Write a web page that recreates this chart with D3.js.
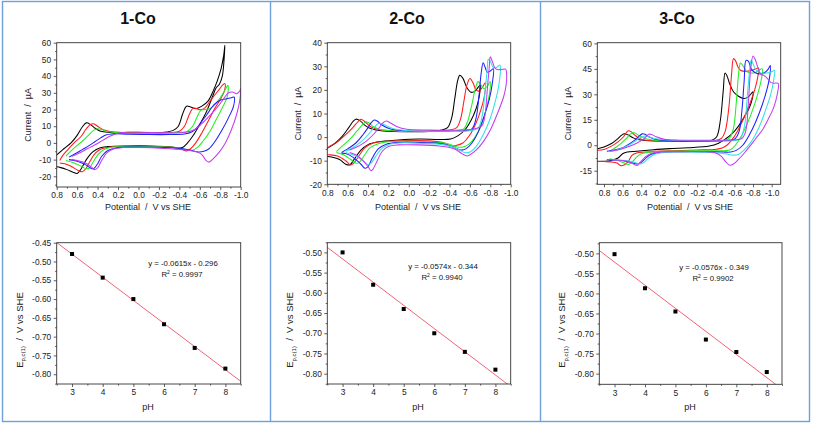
<!DOCTYPE html>
<html><head><meta charset="utf-8">
<script src="https://cdn.jsdelivr.net/npm/d3@7"></script>
<style>
body{margin:0;background:#fff}
svg{display:block;font-family:"Liberation Sans",Arial,sans-serif}
</style>
</head><body>
<svg id="chart" width="813" height="426"></svg>
<script>
// ================= DATA =================
const titles = ["1-Co", "2-Co", "3-Co"];

// CV x ticks (V vs SHE)
const cvXTicks = [0.8, 0.6, 0.4, 0.2, 0.0, -0.2, -0.4, -0.6, -0.8, -1.0];
const cvXTickLabels = ["0.8","0.6","0.4","0.2","0.0","-0.2","-0.4","-0.6","-0.8","-1.0"];
const cvXMinor = [0.7, 0.5, 0.3, 0.1, -0.1, -0.3, -0.5, -0.7, -0.9];
// CV y ticks (µA)
const cvYTicks1 = [-20, -10, 0, 10, 20, 30, 40, 50, 60];
const cvYMinor1 = [-25, -15, -5, 5, 15, 25, 35, 45, 55];
const cvYTicks2 = [-20, -10, 0, 10, 20, 30, 40];
const cvYMinor2 = [-15, -5, 5, 15, 25, 35];
const cvYTicks3 = [-15, 0, 15, 30, 45, 60];
const cvYMinor3 = [-22.5, -7.5, 7.5, 22.5, 37.5, 52.5];
const cvXDomains = [[0.8, -1.0], [0.8, -1.0], [0.872, -1.097]];
const cvYDomains = [[-26.4, 60], [-20, 40], [-23, 60.4]];

// ---- 1-Co cyclic voltammograms [E (V), I (µA)] ----
const co1Black = [[0.82,-8.5],[0.80,-7.2],[0.73,-3.5],[0.66,0],[0.60,4.5],[0.55,9.5],[0.51,12],[0.47,11],[0.43,9],[0.37,7],[0.28,6.3],[0.10,6],[-0.10,6],[-0.25,6.3],[-0.34,7.5],[-0.39,10],[-0.43,17],[-0.47,22],[-0.51,21.5],[-0.56,20.5],[-0.62,22],[-0.68,25],[-0.73,31],[-0.77,37],[-0.81,45],[-0.835,53],[-0.845,58.5],
  [-0.835,48],[-0.82,40],[-0.79,35],[-0.76,33],[-0.72,27],[-0.66,18],[-0.59,10],[-0.53,4],[-0.48,0],[-0.43,-2.8],[-0.38,-3],[-0.30,-2.3],[-0.10,-1.8],[0.10,-1.8],[0.30,-2.2],[0.38,-3],[0.45,-5.5],[0.51,-10],[0.56,-15.5],[0.60,-18.3],[0.64,-17.5],[0.70,-16],[0.76,-14.8],[0.80,-14.3],[0.82,-14.2]];
const co1Red = [[0.77,-10.5],[0.74,-7.5],[0.69,-4],[0.63,0],[0.56,4],[0.51,8.5],[0.47,11],[0.44,11.5],[0.40,10],[0.35,8],[0.28,6.8],[0.10,6.2],[-0.10,6],[-0.30,6.2],[-0.40,7],[-0.45,10],[-0.49,16],[-0.53,20.5],[-0.56,20.8],[-0.60,19.8],[-0.65,21],[-0.70,25],[-0.75,29],[-0.79,32],[-0.82,34.5],[-0.845,35.5],
  [-0.84,31],[-0.80,26],[-0.75,21],[-0.69,14],[-0.62,6],[-0.56,0],[-0.51,-3.5],[-0.47,-4.8],[-0.42,-3.8],[-0.35,-2.8],[-0.10,-2],[0.10,-2],[0.28,-2.5],[0.36,-3.5],[0.42,-6],[0.47,-10.5],[0.51,-15],[0.55,-17.3],[0.59,-16.5],[0.66,-14],[0.72,-12.5],[0.77,-12]];
const co1Green = [[0.71,-8],[0.68,-6],[0.62,-2.5],[0.55,1],[0.49,4.5],[0.44,7.5],[0.40,8.5],[0.36,8],[0.30,6.8],[0.20,6],[0.00,5.8],[-0.20,5.8],[-0.40,6.2],[-0.48,7],[-0.53,10],[-0.57,15],[-0.61,19.5],[-0.65,20],[-0.70,20.5],[-0.75,23],[-0.80,27],[-0.84,31],[-0.875,34.5],
  [-0.87,28],[-0.82,21],[-0.76,14],[-0.70,7],[-0.63,1],[-0.57,-3],[-0.52,-4.5],[-0.47,-4],[-0.40,-3],[-0.20,-2.3],[0.10,-2.2],[0.25,-2.5],[0.33,-3.8],[0.39,-6.5],[0.44,-11],[0.48,-15],[0.51,-15.5],[0.56,-14],[0.63,-12],[0.71,-10.5]];
const co1Blue = [[0.68,-8.5],[0.62,-6.5],[0.55,-4],[0.48,-1.5],[0.42,1],[0.37,3],[0.32,4.8],[0.25,5.4],[0.10,5.2],[-0.10,5],[-0.30,5],[-0.45,5.3],[-0.52,6.5],[-0.57,9],[-0.62,13],[-0.67,17],[-0.72,21.5],[-0.77,24.5],[-0.82,26],[-0.87,26.5],[-0.91,27],[-0.935,27.5],
  [-0.93,22],[-0.88,15],[-0.82,8],[-0.75,1],[-0.69,-3.5],[-0.63,-5.2],[-0.57,-5.3],[-0.50,-4.2],[-0.40,-3.2],[-0.20,-2.6],[0.10,-2.5],[0.22,-3],[0.30,-4.5],[0.36,-8],[0.40,-12.5],[0.44,-15.5],[0.47,-15],[0.52,-13],[0.60,-11],[0.68,-10]];
const co1Magenta = [[0.65,-8],[0.58,-6],[0.50,-3.5],[0.42,-1],[0.35,1.5],[0.28,4],[0.20,5.8],[0.10,6.5],[-0.05,6.4],[-0.30,6],[-0.45,6.2],[-0.55,8],[-0.62,11.5],[-0.70,16.5],[-0.78,22],[-0.84,27],[-0.88,30],[-0.92,30.5],[-0.96,29.5],[-0.99,31],[-1.00,32.5],
  [-0.99,25],[-0.96,17],[-0.91,8],[-0.85,0],[-0.79,-5.5],[-0.73,-9.5],[-0.69,-11.5],[-0.66,-10.5],[-0.62,-7],[-0.56,-5.2],[-0.45,-4.2],[-0.25,-3.3],[0.00,-2.8],[0.15,-2.8],[0.24,-3.5],[0.31,-6],[0.36,-10.5],[0.40,-15],[0.43,-16],[0.46,-14.5],[0.52,-12],[0.60,-10.5],[0.65,-10]];

// ---- 2-Co ----
const co2Black = [[0.82,-5.5],[0.80,-4.8],[0.72,-2.5],[0.65,0.5],[0.59,4],[0.55,6.5],[0.52,7.6],[0.48,7],[0.43,5],[0.37,3.5],[0.25,2.6],[0.00,2.3],[-0.20,2.4],[-0.32,3],[-0.38,4],[-0.42,8],[-0.45,16],[-0.48,24],[-0.50,26.2],[-0.53,25],[-0.57,21],[-0.61,19],[-0.65,19.5],[-0.70,22],
  [-0.69,17],[-0.66,12],[-0.61,7],[-0.55,3],[-0.48,0.5],[-0.41,-0.8],[-0.30,-1],[-0.10,-0.8],[0.10,-1.2],[0.30,-2],[0.40,-3.2],[0.47,-5.5],[0.53,-9],[0.58,-11.8],[0.62,-11.5],[0.68,-9.5],[0.75,-8.5],[0.82,-8.2]];
const co2Red = [[0.82,-5],[0.78,-4],[0.70,-2],[0.62,1],[0.55,4],[0.50,6.5],[0.47,7.6],[0.43,6.5],[0.38,4.5],[0.30,3.2],[0.10,2.6],[-0.20,2.6],[-0.40,3],[-0.47,4],[-0.51,8],[-0.54,15],[-0.57,22],[-0.60,24.8],[-0.63,23],[-0.66,20],[-0.69,19.5],[-0.72,21],[-0.75,23],
  [-0.74,17],[-0.71,12],[-0.66,6],[-0.60,1],[-0.53,-2.5],[-0.46,-3.6],[-0.41,-3.8],[-0.35,-2.5],[-0.20,-1.6],[0.00,-1.5],[0.20,-1.8],[0.35,-2.5],[0.43,-4.5],[0.49,-8],[0.54,-11],[0.57,-11.8],[0.62,-10],[0.70,-8],[0.78,-7.5],[0.82,-7.5]];
const co2Green = [[0.71,-6.2],[0.66,-4],[0.58,-1],[0.51,2.5],[0.46,5],[0.42,6.5],[0.39,6],[0.35,4.5],[0.28,3.2],[0.10,2.5],[-0.20,2.4],[-0.45,2.6],[-0.54,3.5],[-0.58,7],[-0.62,14],[-0.65,20],[-0.68,23.5],[-0.71,22],[-0.74,20.5],[-0.77,21.5],[-0.80,23.5],
  [-0.79,18],[-0.76,12],[-0.71,5],[-0.65,0],[-0.59,-3],[-0.52,-4.3],[-0.46,-4],[-0.38,-2.8],[-0.20,-2],[0.00,-1.8],[0.20,-2],[0.30,-2.8],[0.38,-4.5],[0.44,-8],[0.49,-10.8],[0.52,-11],[0.57,-9.5],[0.64,-7.5],[0.71,-6.5]];
const co2Blue = [[0.66,-6.5],[0.60,-5],[0.52,-2.5],[0.45,1],[0.40,4],[0.37,6],[0.34,7.2],[0.31,6.8],[0.26,5],[0.18,3.4],[0.00,2.6],[-0.30,2.5],[-0.55,2.7],[-0.62,3.5],[-0.66,8],[-0.69,18],[-0.71,27],[-0.73,31.5],[-0.75,29.5],[-0.77,27.5],[-0.80,28],[-0.83,29],
  [-0.82,23],[-0.79,16],[-0.74,9],[-0.68,2],[-0.62,-2.5],[-0.56,-5],[-0.51,-5.5],[-0.45,-4.5],[-0.35,-3],[-0.10,-2.3],[0.10,-2.3],[0.22,-3],[0.30,-5],[0.36,-9],[0.40,-12.5],[0.43,-13.2],[0.47,-11.5],[0.55,-8.5],[0.62,-7],[0.66,-6.8]];
const co2Cyan = [[0.62,-6],[0.55,-4.5],[0.47,-2],[0.40,1],[0.34,4],[0.30,5.8],[0.27,5.8],[0.22,4.8],[0.15,3.5],[0.00,2.7],[-0.30,2.5],[-0.60,2.7],[-0.68,3.8],[-0.72,9],[-0.75,20],[-0.77,29],[-0.78,33],[-0.80,32],[-0.83,29.5],[-0.86,29.5],[-0.895,30.5],
  [-0.89,24],[-0.86,17],[-0.80,8],[-0.73,1],[-0.66,-4],[-0.60,-6.3],[-0.55,-6.6],[-0.48,-5],[-0.35,-3.3],[-0.10,-2.6],[0.10,-2.5],[0.20,-3.2],[0.27,-5],[0.33,-8.5],[0.37,-11],[0.40,-11.6],[0.45,-10],[0.52,-8],[0.60,-6.8],[0.62,-6.5]];
const co2Magenta = [[0.58,-5.5],[0.50,-4],[0.42,-1.8],[0.35,1],[0.29,4],[0.25,6.2],[0.22,6.8],[0.18,6],[0.12,4.5],[0.02,3.3],[-0.20,3],[-0.50,3],[-0.65,3.5],[-0.72,5],[-0.75,10],[-0.77,20],[-0.79,30],[-0.80,34],[-0.82,32],[-0.85,29],[-0.90,28.5],[-0.95,28.8],[-0.96,27],
  [-0.955,22],[-0.93,17],[-0.87,10],[-0.80,3],[-0.73,-2],[-0.66,-5.5],[-0.60,-7.5],[-0.57,-8],[-0.52,-7],[-0.45,-5],[-0.30,-3.8],[-0.10,-3.3],[0.10,-3.3],[0.20,-4],[0.26,-6],[0.31,-10],[0.35,-13.5],[0.37,-14.2],[0.40,-12.5],[0.45,-10],[0.52,-7.5],[0.58,-6.5]];

// ---- 3-Co ----
const co3Black = [[0.87,-2],[0.80,-1],[0.72,1],[0.66,3.5],[0.61,6],[0.58,6.8],[0.54,6],[0.48,4.2],[0.42,3.2],[0.30,2.6],[0.00,2.3],[-0.25,2.4],[-0.36,3],[-0.41,5],[-0.45,15],[-0.48,32],[-0.50,42.5],[-0.52,41],[-0.55,36],[-0.59,31.5],[-0.64,29],[-0.70,27.5],[-0.75,28.5],[-0.80,31.5],
  [-0.79,27],[-0.76,22],[-0.71,17],[-0.64,11],[-0.57,6.5],[-0.50,3.5],[-0.43,1.2],[-0.33,-0.5],[-0.10,-1.5],[0.10,-2],[0.30,-2.8],[0.45,-3.5],[0.55,-4],[0.60,-5],[0.65,-7.5],[0.72,-9],[0.80,-9.5],[0.87,-9.6]];
const co3Red = [[0.87,-3],[0.80,-2.5],[0.72,-0.5],[0.65,2],[0.59,5],[0.56,7.5],[0.54,8.5],[0.51,8],[0.47,6],[0.42,4],[0.35,3],[0.10,2.6],[-0.20,2.6],[-0.40,2.8],[-0.46,4],[-0.50,8],[-0.54,22],[-0.57,42],[-0.59,51],[-0.61,50],[-0.64,46],[-0.67,44],[-0.72,43.5],[-0.78,44],[-0.83,45],[-0.86,45.5],
  [-0.85,40],[-0.82,33],[-0.77,25],[-0.70,16],[-0.63,8],[-0.57,3],[-0.52,0],[-0.46,-1.8],[-0.38,-2.5],[-0.20,-2.8],[0.10,-3.3],[0.35,-4],[0.45,-4.5],[0.50,-6],[0.54,-9.5],[0.58,-11.5],[0.62,-12],[0.66,-10.5],[0.72,-9.8],[0.80,-9.6],[0.87,-9.5]];
const co3Green = [[0.74,-3.5],[0.68,-1.5],[0.62,1],[0.56,4],[0.52,6.5],[0.49,7.5],[0.46,7],[0.42,5.5],[0.36,4],[0.25,3],[0.00,2.6],[-0.30,2.6],[-0.50,3],[-0.55,4.5],[-0.59,10],[-0.62,25],[-0.645,42],[-0.665,48.5],[-0.69,47],[-0.73,43.5],[-0.78,42.5],[-0.83,43],[-0.87,44.5],[-0.90,45],
  [-0.89,39],[-0.86,32],[-0.81,23],[-0.74,13],[-0.67,5],[-0.61,0],[-0.56,-2.5],[-0.50,-3.2],[-0.40,-3.2],[-0.20,-3.2],[0.10,-3.5],[0.30,-4],[0.40,-5],[0.45,-7],[0.50,-10],[0.54,-11.3],[0.58,-10.5],[0.65,-9],[0.74,-8]];
const co3Blue = [[0.77,-3.5],[0.70,-3],[0.60,-1.5],[0.52,1],[0.46,3.5],[0.42,5.5],[0.39,6.7],[0.36,6.5],[0.32,5],[0.25,3.5],[0.10,2.8],[-0.20,2.6],[-0.50,2.7],[-0.60,3.5],[-0.65,8],[-0.68,20],[-0.705,38],[-0.725,50],[-0.75,49.5],[-0.78,45],[-0.83,42.5],[-0.88,42],[-0.93,43],[-0.965,45],[-0.985,47],
  [-0.98,41],[-0.95,33],[-0.90,24],[-0.83,14],[-0.76,6],[-0.69,0],[-0.62,-3],[-0.56,-4],[-0.48,-4],[-0.30,-3.8],[0.00,-3.8],[0.20,-4.2],[0.30,-5.5],[0.36,-8],[0.41,-10.5],[0.45,-11],[0.50,-10.3],[0.58,-9.2],[0.68,-8.8],[0.77,-8.5]];
const co3Cyan = [[0.72,-3.5],[0.62,-2],[0.52,0.5],[0.45,3],[0.39,5],[0.36,5.5],[0.32,5],[0.26,4],[0.15,3.2],[-0.10,2.8],[-0.40,2.7],[-0.62,2.9],[-0.67,4.5],[-0.71,12],[-0.74,30],[-0.765,45],[-0.78,50],[-0.80,48],[-0.83,44.5],[-0.88,42.5],[-0.94,42.5],[-0.99,43],[-1.03,44],
  [-1.02,38],[-0.99,30],[-0.93,20],[-0.86,10],[-0.78,2],[-0.70,-3],[-0.64,-5.5],[-0.58,-5.8],[-0.50,-5],[-0.35,-4.3],[-0.10,-4],[0.15,-4.2],[0.25,-5.2],[0.32,-7.5],[0.37,-10],[0.41,-11],[0.46,-10.3],[0.55,-9],[0.65,-8.8],[0.72,-8.5]];
const co3Magenta = [[0.73,-3.5],[0.63,-2.5],[0.52,-0.5],[0.44,1.5],[0.38,3.5],[0.34,5.5],[0.32,6.5],[0.29,6.3],[0.24,5],[0.15,3.5],[0.00,3],[-0.30,3],[-0.60,3.2],[-0.68,4],[-0.72,8],[-0.75,25],[-0.775,45],[-0.80,52.5],[-0.82,51],[-0.85,46],[-0.88,42],[-0.92,41],[-0.96,39],[-0.99,37],[-1.02,36.5],[-1.07,36.5],
  [-1.06,30],[-1.02,22],[-0.96,15],[-0.90,9],[-0.83,4],[-0.76,-1],[-0.70,-5],[-0.64,-8.5],[-0.59,-11],[-0.55,-11.8],[-0.51,-10],[-0.46,-6.5],[-0.40,-4.5],[-0.25,-3.8],[0.00,-3.8],[0.20,-4],[0.30,-5],[0.36,-7],[0.41,-10],[0.44,-11.8],[0.47,-11.5],[0.52,-10],[0.60,-9],[0.73,-8.5]];

// ---- Peak potential vs pH ----
const pH = [3, 4, 5, 6, 7, 8];
const ep1 = [-0.480, -0.543, -0.600, -0.667, -0.730, -0.785];
const ep2 = [-0.500, -0.580, -0.640, -0.700, -0.746, -0.790];
const ep3 = [-0.502, -0.587, -0.645, -0.715, -0.746, -0.796];
const fitSlopes = [-0.0615, -0.0574, -0.0576];
const fitIntercepts = [-0.296, -0.344, -0.349];
const fitEquations = ["y = -0.0615x - 0.296", "y = -0.0574x - 0.344", "y = -0.0576x - 0.349"];
const fitR2 = ["0.9997", "0.9940", "0.9902"];
const phXTicks = [3, 4, 5, 6, 7, 8];
const phXMinor = [2.5, 3.5, 4.5, 5.5, 6.5, 7.5, 8.5];
const phYTicks1 = [-0.80, -0.75, -0.70, -0.65, -0.60, -0.55, -0.50, -0.45];
const phYTicks23 = [-0.80, -0.75, -0.70, -0.65, -0.60, -0.55, -0.50];
const phYMinor = [-0.825, -0.775, -0.725, -0.675, -0.625, -0.575, -0.525, -0.475];
const phXDomain = [2.5, 8.5];
const phYDomains = [[-0.826, -0.45], [-0.8255, -0.476], [-0.8266, -0.4734]];

// ================= LAYOUT / STYLE =================
const COL = {black:"#000000", red:"#ff1a1a", green:"#22ee22", blue:"#1f1fff", cyan:"#33e0e6", magenta:"#c23cf2"};
const cvSeries = [
  [["black",co1Black],["red",co1Red],["green",co1Green],["blue",co1Blue],["magenta",co1Magenta]],
  [["black",co2Black],["red",co2Red],["green",co2Green],["blue",co2Blue],["cyan",co2Cyan],["magenta",co2Magenta]],
  [["black",co3Black],["red",co3Red],["green",co3Green],["blue",co3Blue],["cyan",co3Cyan],["magenta",co3Magenta]]
];
const cvYT = [[cvYTicks1,cvYMinor1],[cvYTicks2,cvYMinor2],[cvYTicks3,cvYMinor3]];
const phData = [ep1, ep2, ep3];
const phYT = [phYTicks1, phYTicks23, phYTicks23];

const cvBoxes = [
  {x0:56.7, x1:240.7, y0:42.7, y1:187},
  {x0:327.3, x1:510.7, y0:42.7, y1:184.3},
  {x0:597.3, x1:780.7, y0:42.7, y1:184.3}];
const phBoxes = [
  {x0:56.7, x1:240.7, y0:242.7, y1:384},
  {x0:327.3, x1:510.7, y0:242.7, y1:384},
  {x0:599.3, x1:782, y0:242.7, y1:384.3}];
const panelCenters = [148, 418, 690];
const titleX = [138, 407, 677];
const eqPos = [[183, 266], [443, 268.5], [714, 269.5]];

const svg = d3.select("#chart");
svg.append("rect").attr("width",813).attr("height",426).attr("fill","#fff");
const TICKC = "#333";

function drawAxes(g, b, x, y, xt, xm, xfmt, yt, ym, yfmt) {
  const ax = g.append("g").attr("transform",`translate(0,${b.y1})`)
    .call(d3.axisBottom(x).tickValues(xt).tickFormat(xfmt).tickSize(3).tickPadding(2.5));
  const axm = g.append("g").attr("transform",`translate(0,${b.y1})`)
    .call(d3.axisBottom(x).tickValues(xm).tickFormat("").tickSize(1.6));
  const ay = g.append("g").attr("transform",`translate(${b.x0},0)`)
    .call(d3.axisLeft(y).tickValues(yt).tickFormat(yfmt).tickSize(3).tickPadding(2.5));
  const aym = g.append("g").attr("transform",`translate(${b.x0},0)`)
    .call(d3.axisLeft(y).tickValues(ym).tickFormat("").tickSize(1.6));
  [ax,axm,ay,aym].forEach(a=>{
    a.select(".domain").remove();
    a.selectAll("line").attr("stroke",TICKC).attr("stroke-width",0.8);
    a.selectAll("text").attr("fill","#222").attr("font-size","8.4px")
      .attr("font-family",'"Liberation Sans", Arial, sans-serif');
  });
  g.append("rect").attr("x",b.x0).attr("y",b.y0).attr("width",b.x1-b.x0).attr("height",b.y1-b.y0)
    .attr("fill","none").attr("stroke","#333").attr("stroke-width",0.9);
}

for (let p = 0; p < 3; p++) {
  const g = svg.append("g");
  // title
  g.append("text").attr("x",titleX[p]).attr("y",24).attr("text-anchor","middle")
    .attr("font-size","16px").attr("font-weight","bold").attr("fill","#111").text(titles[p]);

  // ---- CV plot ----
  const b = cvBoxes[p];
  const x = d3.scaleLinear().domain(cvXDomains[p]).range([b.x0, b.x1]);
  const y = d3.scaleLinear().domain(cvYDomains[p]).range([b.y1, b.y0]);
  const cid = "cvclip"+p;
  g.append("clipPath").attr("id",cid).append("rect")
    .attr("x",b.x0).attr("y",b.y0).attr("width",b.x1-b.x0).attr("height",b.y1-b.y0);
  const line = d3.line().x(d=>x(d[0])).y(d=>y(d[1])).curve(d3.curveCatmullRom.alpha(0.5));
  const cg = g.append("g").attr("clip-path",`url(#${cid})`);
  cvSeries[p].forEach(([c, pts]) => {
    cg.append("path").attr("d", line(pts)).attr("fill","none")
      .attr("stroke", COL[c]).attr("stroke-width",1.05).attr("stroke-linejoin","round");
  });
  drawAxes(g, b, x, y, cvXTicks, cvXMinor, (d,i)=>cvXTickLabels[i], cvYT[p][0], cvYT[p][1], d=>String(d));
  g.append("text").attr("transform",`translate(${b.x0-26},${(b.y0+b.y1)/2}) rotate(-90)`)
    .attr("text-anchor","middle").attr("font-size","9px").attr("fill","#222")
    .style("white-space","pre").text("Current  /  \u00b5A");
  g.append("text").attr("x",panelCenters[p]).attr("y",210).attr("text-anchor","middle")
    .attr("font-size","9px").attr("fill","#222").style("white-space","pre").text("Potential  /  V vs SHE");

  // ---- pH plot ----
  const pb = phBoxes[p];
  const px = d3.scaleLinear().domain(phXDomain).range([pb.x0, pb.x1]);
  const py = d3.scaleLinear().domain(phYDomains[p]).range([pb.y1, pb.y0]);
  const pid = "phclip"+p;
  g.append("clipPath").attr("id",pid).append("rect")
    .attr("x",pb.x0).attr("y",pb.y0).attr("width",pb.x1-pb.x0).attr("height",pb.y1-pb.y0);
  const fit = phXDomain.map(v => [v, fitSlopes[p]*v + fitIntercepts[p]]);
  g.append("g").attr("clip-path",`url(#${pid})`).append("path")
    .attr("d", d3.line().x(d=>px(d[0])).y(d=>py(d[1]))(fit))
    .attr("fill","none").attr("stroke","#f0506a").attr("stroke-width",0.9);
  g.append("g").selectAll("rect").data(pH.map((v,i)=>[v, phData[p][i]])).join("rect")
    .attr("x",d=>px(d[0])-2).attr("y",d=>py(d[1])-2).attr("width",4).attr("height",4).attr("fill","#000");
  drawAxes(g, pb, px, py, phXTicks, phXMinor, d=>String(d), phYT[p], phYMinor, d=>d.toFixed(2));
  g.append("text").attr("x",eqPos[p][0]).attr("y",eqPos[p][1]).attr("text-anchor","middle")
    .attr("font-size","7.8px").attr("fill","#111").text(fitEquations[p]);
  const r2 = g.append("text").attr("x",eqPos[p][0]-1).attr("y",eqPos[p][1]+11).attr("text-anchor","middle")
    .attr("font-size","7.8px").attr("fill","#111");
  r2.append("tspan").text("R");
  r2.append("tspan").attr("font-size","5px").attr("dy",-3).text("2");
  r2.append("tspan").attr("dy",3).text(" = " + fitR2[p]);
  const yl = g.append("text").attr("transform",`translate(${pb.x0-34},330) rotate(-90)`)
    .attr("text-anchor","middle").attr("font-size","9.5px").attr("fill","#222").style("white-space","pre");
  yl.append("tspan").text("E");
  yl.append("tspan").attr("font-size","6px").attr("dy",2.5).text("p,c(1)");
  yl.append("tspan").attr("dy",-2.5).text("  /  V vs SHE");
  g.append("text").attr("x",panelCenters[p]).attr("y",410).attr("text-anchor","middle")
    .attr("font-size","9px").attr("fill","#222").text("pH");
}

// panel borders
const BC = "#6fa0dc";
svg.append("rect").attr("x",2.5).attr("y",1.5).attr("width",807).attr("height",420)
  .attr("fill","none").attr("stroke",BC).attr("stroke-width",1.4);
[270.5, 540.5].forEach(xv => svg.append("line").attr("x1",xv).attr("x2",xv).attr("y1",1.5).attr("y2",421.5)
  .attr("stroke",BC).attr("stroke-width",1.4));
</script>
</body></html>
